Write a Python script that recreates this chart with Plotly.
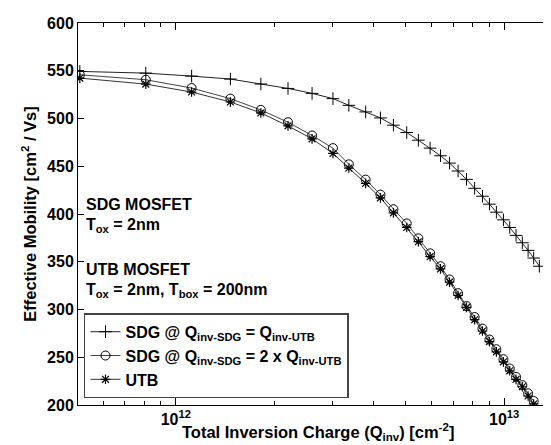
import plotly.graph_objects as go

# Total inversion charge (cm^-2), shared by the three series
q_inv = [5.1e11, 8.1e11, 1.117e12, 1.466e12, 1.815e12, 2.196e12, 2.60e12, 3.01e12,
         3.365e12, 3.786e12, 4.20e12, 4.60e12, 5.05e12, 5.48e12, 5.95e12, 6.40e12,
         6.82e12, 7.24e12, 7.68e12, 8.13e12, 8.59e12, 9.02e12, 9.47e12, 9.95e12,
         1.04e13, 1.087e13, 1.136e13, 1.183e13, 1.23e13, 1.28e13]

sdg_equal = [549.3, 547.5, 544.4, 541.3, 536.1, 531.5, 526.3, 520.8, 513.8, 506.9,
             500.6, 493.0, 485.3, 477.3, 469.0, 461.0, 453.3, 445.0, 436.3, 426.9,
             418.6, 410.3, 401.9, 393.9, 385.9, 377.6, 369.9, 361.9, 353.9, 345.3]

sdg_double = [545.8, 540.6, 531.9, 520.8, 509.0, 496.1, 482.2, 469.0, 452.0, 436.0,
              420.3, 405.0, 390.1, 374.5, 358.8, 345.3, 331.4, 317.1, 303.6, 292.1,
              280.0, 268.5, 258.4, 248.0, 238.2, 229.5, 220.8, 212.2, 204.2]

utb = [542.3, 536.0, 527.7, 517.3, 505.8, 492.3, 478.7, 463.4, 448.1, 432.1,
       416.9, 401.2, 385.9, 371.0, 355.3, 342.5, 328.6, 314.7, 302.2, 289.3,
       277.5, 266.4, 255.6, 245.2, 235.8, 226.8, 219.1, 209.4, 201.1]

y_ticks = [200, 250, 300, 350, 400, 450, 500, 550, 600]
x_major = [1e12, 1e13]
x_major_text = ["10<sup>12</sup>", "10<sup>13</sup>"]
x_minor = [6e11, 7e11, 8e11, 9e11, 2e12, 3e12, 4e12, 5e12, 6e12, 7e12, 8e12, 9e12]

annot_lines = ["SDG MOSFET", "T<sub>ox</sub> = 2nm",
               "UTB MOSFET", "T<sub>ox</sub> = 2nm, T<sub>box</sub> = 200nm"]
annot_y = [0.553, 0.501, 0.383, 0.331]

x_title = "Total Inversion Charge (Q<sub>inv</sub>) [cm<sup>-2</sup>]"
y_title = "Effective Mobility [cm<sup>2</sup> / Vs]"

FONT = "Liberation Sans, Arial, sans-serif"

fig = go.Figure()
fig.add_trace(go.Scatter(
    x=q_inv, y=sdg_equal, mode="lines+markers",
    name="SDG @ Q<sub>inv-SDG</sub> = Q<sub>inv-UTB</sub>",
    line=dict(color="#222222", width=1),
    marker=dict(symbol="cross-thin-open", size=9, color="black", line=dict(width=1, color="black")),
))
fig.add_trace(go.Scatter(
    x=q_inv[:len(sdg_double)], y=sdg_double, mode="lines+markers",
    name="SDG @ Q<sub>inv-SDG</sub> = 2 x Q<sub>inv-UTB</sub>",
    line=dict(color="#444444", width=1),
    marker=dict(symbol="circle-open", size=9, color="black", line=dict(width=1, color="black")),
))
fig.add_trace(go.Scatter(
    x=q_inv[:len(utb)], y=utb, mode="lines+markers",
    name="UTB",
    line=dict(color="#333333", width=1),
    marker=dict(symbol="asterisk-open", size=8, color="black", line=dict(width=1.2, color="black")),
))

for txt, yy in zip(annot_lines, annot_y):
    fig.add_annotation(
        text=txt, xref="paper", yref="paper", x=0.012, y=yy,
        xanchor="left", yanchor="top", showarrow=False, align="left",
        font=dict(family=FONT, size=16, color="black", weight="bold"),
    )

# x-axis title as annotation (tighter to the tick labels, like the reference)
fig.add_annotation(
    text=x_title, xref="paper", yref="paper", x=0.5, y=-0.104,
    xanchor="center", yanchor="bottom", showarrow=False,
    font=dict(family=FONT, size=16.5, color="black", weight="bold"),
)

fig.update_layout(
    width=551, height=445,
    margin=dict(l=70, r=2, t=15, b=47.5),
    paper_bgcolor="white", plot_bgcolor="white",
    font=dict(family=FONT, size=16, color="black", weight="bold"),
    showlegend=True,
    legend=dict(
        x=0.0125, y=0.24, xanchor="left", yanchor="top",
        bgcolor="white", bordercolor="#444444", borderwidth=1.5,
        font=dict(family=FONT, size=16, color="black", weight="bold"),
        tracegroupgap=0, itemwidth=30,
    ),
    xaxis=dict(
        type="log", range=[11.702, 13.161],
        tickvals=x_major, ticktext=x_major_text,
        ticks="inside", ticklen=7, tickwidth=1, tickcolor="black",
        minor=dict(tickvals=x_minor, ticks="inside", ticklen=4, tickwidth=1, tickcolor="black"),
        showline=True, linecolor="black", linewidth=1, mirror="ticks",
        showgrid=False, zeroline=False,
        tickfont=dict(family=FONT, size=16, color="black", weight="bold"),
    ),
    yaxis=dict(
        range=[200, 600], tickvals=y_ticks,
        ticks="inside", ticklen=6, tickwidth=1, tickcolor="black",
        showline=True, linecolor="black", linewidth=1, mirror="ticks",
        showgrid=False, zeroline=False,
        tickfont=dict(family=FONT, size=16, color="black", weight="bold"),
        title=dict(text=y_title,
                   font=dict(family=FONT, size=16.5, color="black", weight="bold"), standoff=6),
    ),
)

fig.write_html("out.html")
